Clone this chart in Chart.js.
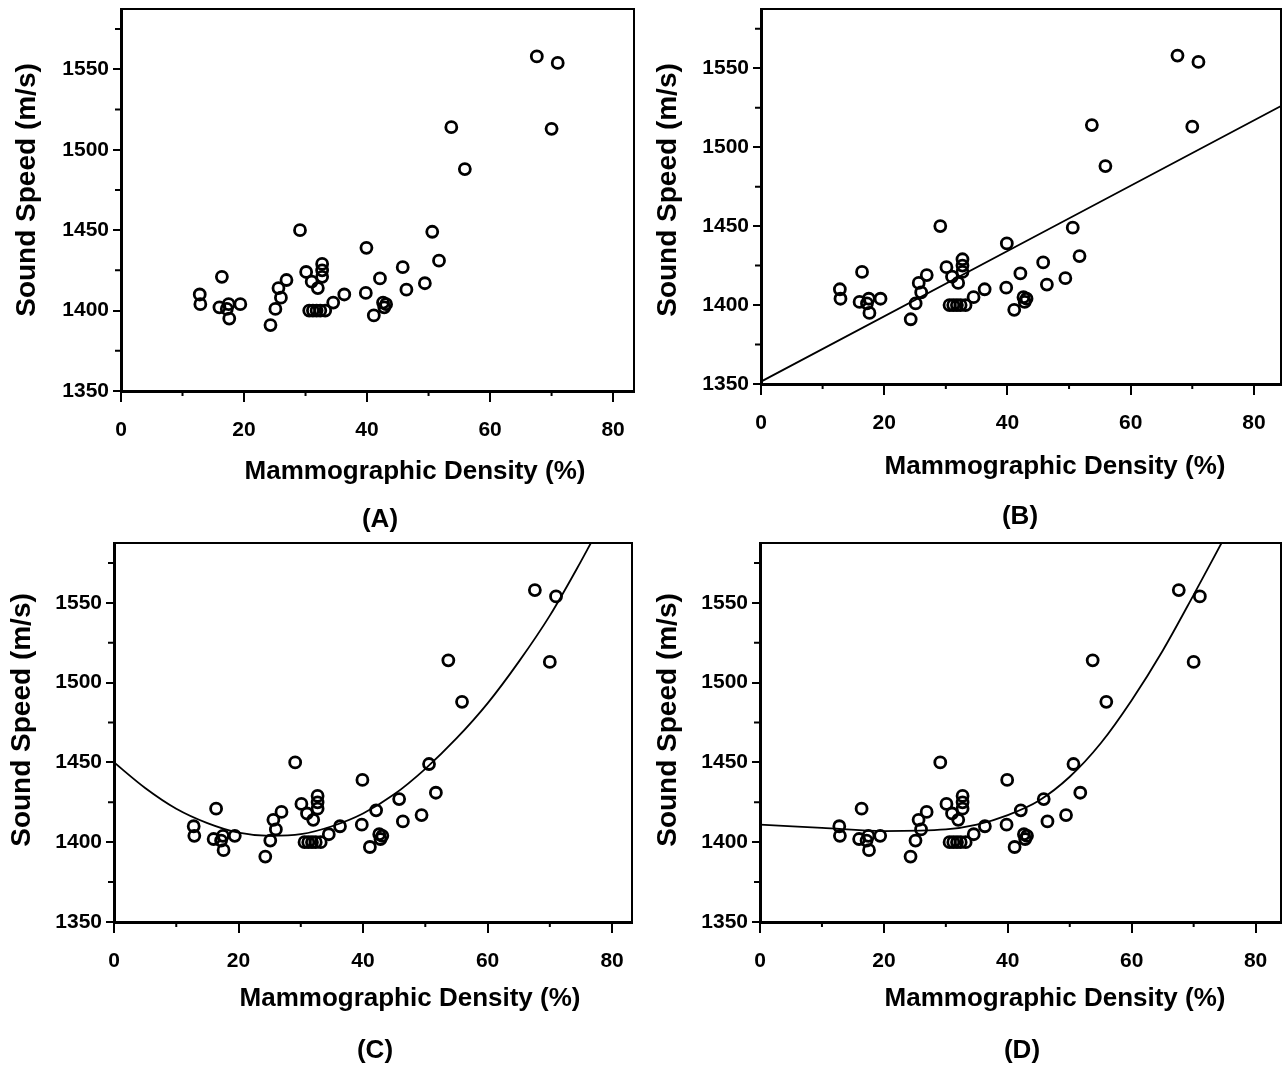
<!DOCTYPE html>
<html>
<head>
<meta charset="utf-8">
<script src="https://cdn.jsdelivr.net/npm/chart.js@4.4.1/dist/chart.umd.min.js"></script>
<style>
  body { margin: 0; background: #fff; }
  #wrap { position: relative; width: 1282px; height: 1066px; }
  #wrap canvas { position: absolute; }
</style>
</head>
<body>
<div id="wrap">
  <canvas id="chartA" width="641" height="533" style="left:0;top:0"></canvas>
  <canvas id="chartB" width="641" height="533" style="left:641px;top:0"></canvas>
  <canvas id="chartC" width="641" height="533" style="left:0;top:533px"></canvas>
  <canvas id="chartD" width="641" height="533" style="left:641px;top:533px"></canvas>
</div>
<script>
// Measured data: mammographic density (%) vs sound speed (m/s)
const density = [12.8, 12.9, 16.4, 16.0, 17.2, 17.5, 19.4, 17.6, 24.3, 25.1, 25.6, 26.0, 26.9, 29.1, 30.1,
                 31.0, 32.7, 32.7, 32.7, 32.0, 30.6, 31.2, 31.8, 32.4, 33.2, 34.5, 36.3, 39.9, 39.8, 41.1,
                 42.1, 42.6, 43.1, 42.8, 45.8, 46.4, 49.4, 50.6, 51.7, 53.7, 55.9, 67.6, 70.0, 71.0];
const soundSpeed = [1410, 1404, 1421, 1402, 1401, 1404, 1404, 1395, 1391, 1401, 1414, 1408, 1419, 1450, 1424,
                    1418, 1429, 1425, 1421, 1414, 1400, 1400, 1400, 1400, 1400, 1405, 1410, 1439, 1411, 1397,
                    1420, 1405, 1404, 1402, 1427, 1413, 1417, 1449, 1431, 1514, 1488, 1558, 1513, 1554];

// (B) linear fit, read at its two ends
const linearX = [0, 84.4];
const linearY = [1351.5, 1526];

// (C) quadratic fit
const quadX = [0, 5, 10, 15, 20, 25, 30, 35, 40, 45, 50, 55, 60, 65, 70, 75, 76.6];
const quadY = [1450, 1434, 1421, 1412, 1406, 1404, 1405, 1410, 1418, 1430, 1446, 1465, 1487, 1513, 1542, 1576, 1587.5];

// (D) cubic fit
const cubicX = [0, 10, 20, 30, 35, 40, 45, 50, 55, 60, 65, 70, 74.5];
const cubicY = [1411, 1409, 1407, 1408, 1411, 1417, 1426, 1441, 1462, 1489, 1520, 1555, 1587.5];

// Axis ticks
const xTicks = [0, 20, 40, 60, 80];
const xMinorTicks = [10, 30, 50, 70];
const yTicks = [1350, 1400, 1450, 1500, 1550];
const yMinorTicks = [1375, 1425, 1475, 1525, 1575];

const xTitle = 'Mammographic Density (%)';
const yTitle = 'Sound Speed (m/s)';

const FONT = '"Liberation Sans", Arial, sans-serif';

function pairs(xs, ys) {
    return xs.map((v, i) => ({ x: v, y: ys[i] }));
}

// frame, minor ticks and titles
const decor = {
    id: 'decor',
    afterDraw(chart, args, o) {
        const { ctx, chartArea: a, scales: { x, y } } = chart;
        ctx.save();
        ctx.strokeStyle = '#000';
        ctx.lineWidth = 2;
        ctx.beginPath();
        ctx.moveTo(a.left, a.top);
        ctx.lineTo(a.right, a.top);
        ctx.lineTo(a.right, a.bottom);
        ctx.stroke();

        ctx.beginPath();
        yMinorTicks.forEach(v => {
            const p = y.getPixelForValue(v);
            ctx.moveTo(a.left - 6, p);
            ctx.lineTo(a.left, p);
        });
        xMinorTicks.forEach(v => {
            const p = x.getPixelForValue(v);
            ctx.moveTo(p, a.bottom);
            ctx.lineTo(p, a.bottom + 5);
        });
        ctx.stroke();

        ctx.fillStyle = '#000';
        ctx.textAlign = 'center';
        ctx.textBaseline = 'middle';
        ctx.font = 'bold 26px ' + FONT;
        ctx.fillText(xTitle, o.xTitleX, o.xTitleY);
        ctx.fillText(o.panel, o.panelX, o.panelY);
        ctx.translate(o.yTitleX, o.yTitleY);
        ctx.rotate(-Math.PI / 2);
        ctx.font = 'bold 28px ' + FONT;
        ctx.fillText(yTitle, 0, 0);
        ctx.restore();
    }
};

function makePanel(id, cfg) {
    const datasets = [{
        data: pairs(density, soundSpeed),
        pointRadius: 5.5,
        pointBorderWidth: 2.8,
        pointBorderColor: '#000',
        pointBackgroundColor: 'rgba(0,0,0,0)',
        showLine: false
    }];
    if (cfg.fitX) {
        datasets.push({
            data: pairs(cfg.fitX, cfg.fitY),
            showLine: true,
            borderColor: '#000',
            borderWidth: 1.8,
            pointRadius: 0,
            cubicInterpolationMode: 'monotone'
        });
    }

    return new Chart(document.getElementById(id), {
        type: 'scatter',
        data: { datasets: datasets },
        plugins: [decor],
        options: {
            responsive: false,
            animation: false,
            events: [],
            layout: { autoPadding: false, padding: { top: cfg.top, right: cfg.right, left: 0, bottom: 0 } },
            plugins: {
                legend: { display: false },
                tooltip: { enabled: false },
                decor: cfg.text
            },
            scales: {
                x: {
                    type: 'linear',
                    min: 0,
                    max: cfg.xMax,
                    afterFit: s => { s.height = cfg.xHeight; s.paddingLeft = 0; s.paddingRight = 0; },
                    afterBuildTicks: s => { s.ticks = xTicks.map(v => ({ value: v })); },
                    grid: { drawOnChartArea: false, drawTicks: true, tickLength: 11, color: '#000', lineWidth: 2 },
                    border: { display: true, color: '#000', width: 3 },
                    ticks: { color: '#000', padding: 16, callback: v => String(v),
                             font: { family: FONT, size: 21, weight: 'bold' }, maxRotation: 0 }
                },
                y: {
                    type: 'linear',
                    min: 1350,
                    max: 1587.5,
                    afterFit: s => { s.width = cfg.left; s.paddingTop = 0; s.paddingBottom = 0; },
                    afterBuildTicks: s => { s.ticks = yTicks.map(v => ({ value: v })); },
                    grid: { drawOnChartArea: false, drawTicks: true, tickLength: 8, color: '#000', lineWidth: 2 },
                    border: { display: true, color: '#000', width: 3 },
                    ticks: { color: '#000', padding: 4, callback: v => String(v),
                             font: { family: FONT, size: 21, weight: 'bold' } }
                }
            }
        }
    });
}

makePanel('chartA', {
    left: 121, top: 9, right: 7, xHeight: 142, xMax: 83.4,
    text: { panel: '(A)', panelX: 380, panelY: 520, xTitleX: 415, xTitleY: 472, yTitleX: 27, yTitleY: 190 }
});
makePanel('chartB', {
    left: 120, top: 9, right: 1, xHeight: 149, xMax: 84.4,
    fitX: linearX, fitY: linearY,
    text: { panel: '(B)', panelX: 379, panelY: 517, xTitleX: 414, xTitleY: 467, yTitleX: 27, yTitleY: 190 }
});
makePanel('chartC', {
    left: 114, top: 10, right: 9, xHeight: 144, xMax: 83.2,
    fitX: quadX, fitY: quadY,
    text: { panel: '(C)', panelX: 375, panelY: 518, xTitleX: 410, xTitleY: 466, yTitleX: 22, yTitleY: 187 }
});
makePanel('chartD', {
    left: 119, top: 10, right: 1, xHeight: 144, xMax: 84.1,
    fitX: cubicX, fitY: cubicY,
    text: { panel: '(D)', panelX: 381, panelY: 518, xTitleX: 414, xTitleY: 466, yTitleX: 27, yTitleY: 187 }
});
</script>
</body>
</html>
